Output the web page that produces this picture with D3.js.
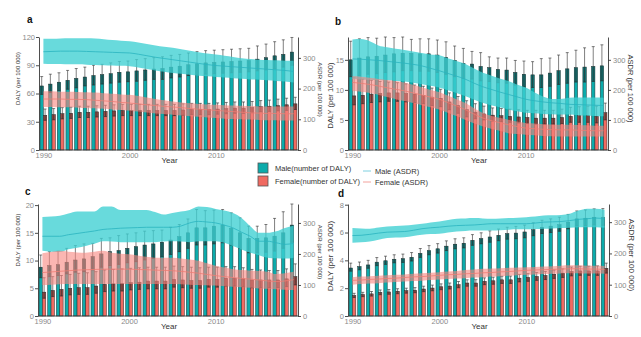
<!DOCTYPE html>
<html>
<head>
<meta charset="utf-8">
<script src="https://cdn.jsdelivr.net/npm/d3@7"></script>
<style>
  body { margin: 0; background: #fff; }
  svg { font-family: "Liberation Sans", Arial, sans-serif; }
</style>
</head>
<body>
<svg id="chart" width="641" height="337"></svg>
<script>
const years = [1990, 1991, 1992, 1993, 1994, 1995, 1996, 1997, 1998, 1999,
  2000, 2001, 2002, 2003, 2004, 2005, 2006, 2007, 2008, 2009,
  2010, 2011, 2012, 2013, 2014, 2015, 2016, 2017, 2018, 2019];
const yearTicks = [1990, 2000, 2010];

// ---- panel a ----
const aMale    = [68, 70, 72, 74, 76, 77.5, 79, 80, 81, 82.5, 83, 84, 85, 86, 86.5, 88, 89, 90.5, 91.5, 92.5, 93, 93.5, 94, 94.5, 95, 96.5, 98, 100, 101.5, 104];
const aMaleHi  = [78, 80.5, 82, 84.5, 86.5, 88, 90, 91, 92.5, 94, 94.5, 96, 97, 98, 99, 100.5, 101.5, 103, 104.5, 105.5, 106, 106.5, 107, 107.5, 108, 110.5, 112.5, 115, 117, 119.5];
const aMaleLo  = [59, 61, 63, 64.5, 66, 68, 69, 70, 71, 72, 72.5, 73, 74, 75, 75, 76.5, 77.5, 79, 80, 80.5, 81, 81.5, 82, 82.5, 83, 84, 85, 86.5, 88, 90];
const aFemale   = [36.8, 37.5, 38.5, 39, 40, 40, 40.5, 41, 41.5, 42, 42, 42, 42, 42, 42, 42, 42.5, 43, 43, 43, 43.5, 44, 44.5, 44.5, 45, 46, 46.5, 47, 48, 49];
const aFemaleHi = [43.5, 44, 45, 45.5, 46.5, 46.5, 47, 47.5, 48, 48.5, 48.5, 48.5, 48.5, 48.5, 48.5, 48.5, 49, 49.5, 49.5, 49.5, 50, 50.5, 51, 51, 51.5, 52.5, 53, 54, 55, 56];
const aFemaleLo = [31.5, 32, 33, 33.5, 34.5, 34.5, 35, 35.5, 36, 36.5, 36.5, 36.5, 36.5, 36.5, 36.5, 36.5, 37, 37.5, 37.5, 37.5, 38, 38.5, 39, 39, 39.5, 40.5, 41, 41.5, 42, 43];
const aMaleAsdr   = [320, 321, 322, 322, 322, 321, 320, 319, 318, 317, 316, 312, 307, 302, 298, 294, 290, 286, 282, 278, 275, 273, 271, 269, 267, 265, 263, 261, 259, 256];
const aMaleAsdrHi = [362, 362, 363, 364, 364, 364, 363, 361, 358, 356, 354, 350, 345, 340, 336, 333, 328, 323, 318, 314, 311, 307, 303, 299, 296, 294, 293, 292, 291, 291];
const aMaleAsdrLo = [281, 280, 280, 279, 279, 278, 277, 276, 275, 274, 273, 269, 264, 259, 255, 251, 248, 245, 242, 240, 238, 236, 234, 232, 230, 229, 227, 225, 223, 220];
const aFemaleAsdr   = [166, 166, 166, 165, 165, 164, 162, 160, 158, 155, 153, 150, 147, 145, 142, 140, 138, 135, 133, 131, 129, 127, 125, 123, 121, 120, 119, 119, 118, 118];
const aFemaleAsdrHi = [191, 191, 190, 190, 189, 188, 187, 185, 183, 181, 180, 176, 171, 166, 162, 158, 155, 152, 150, 148, 147, 146, 145, 144, 143, 142, 142, 142, 142, 142];
const aFemaleAsdrLo = [140, 140, 139, 139, 138, 137, 136, 134, 132, 130, 128, 125, 122, 119, 117, 115, 112, 110, 108, 106, 104, 102, 101, 100, 99, 98, 97, 97, 96, 96];

// ---- panel b ----
const bMale    = [15.0, 15.3, 15.5, 15.6, 15.8, 16.0, 16.1, 16.1, 16.0, 16.0, 15.8, 15.4, 14.9, 14.4, 14.3, 13.9, 13.7, 13.4, 13.3, 12.9, 12.6, 12.5, 12.5, 12.8, 13.2, 13.5, 13.7, 13.8, 13.9, 14.0];
const bMaleHi  = [18.1, 18.5, 18.7, 18.6, 18.8, 18.7, 18.8, 18.4, 18.5, 18.5, 18.3, 18.0, 17.3, 16.9, 16.4, 16.2, 15.5, 15.3, 15.3, 14.9, 14.8, 14.7, 15.2, 15.3, 15.8, 16.2, 16.6, 17.0, 17.2, 17.5];
const bMaleLo  = [12.2, 12.4, 12.6, 12.7, 12.9, 13.0, 13.2, 13.2, 13.1, 13.1, 12.9, 12.6, 12.2, 11.9, 11.8, 11.5, 11.4, 11.2, 11.1, 10.8, 10.5, 10.4, 10.4, 10.6, 10.9, 11.1, 11.3, 11.3, 11.4, 11.5];
const bFemale   = [9.0, 9.1, 9.3, 9.4, 9.5, 9.5, 9.4, 9.3, 9.1, 8.8, 8.6, 8.0, 7.4, 6.7, 6.3, 6.0, 5.8, 5.7, 5.6, 5.5, 5.4, 5.3, 5.3, 5.3, 5.4, 5.6, 5.7, 5.7, 5.6, 6.2];
const bFemaleHi = [12.1, 11.8, 11.6, 11.4, 11.3, 11.2, 11.0, 10.8, 10.6, 10.3, 10.1, 9.5, 8.9, 8.2, 7.7, 7.3, 7.0, 6.9, 6.8, 6.7, 6.6, 6.6, 6.6, 6.6, 6.8, 7.1, 7.2, 7.3, 7.3, 7.8];
const bFemaleLo = [7.5, 7.7, 7.9, 8.0, 8.1, 8.1, 8.0, 7.9, 7.7, 7.4, 7.2, 6.7, 6.1, 5.5, 5.2, 5.0, 4.8, 4.7, 4.6, 4.5, 4.4, 4.3, 4.3, 4.3, 4.4, 4.6, 4.6, 4.6, 4.5, 5.0];
const bMaleAsdr   = [303, 302, 300, 298, 295, 292, 289, 285, 280, 272, 264, 255, 246, 236, 223, 211, 202, 193, 185, 177, 169, 164, 160, 157, 155, 152, 151, 150, 149, 148];
const bMaleAsdrHi = [368, 369, 362, 348, 342, 337, 333, 328, 323, 318, 315, 305, 296, 287, 272, 258, 248, 238, 230, 218, 208, 192, 178, 170, 170, 174, 175, 175, 175, 174];
const bMaleAsdrLo = [236, 235, 234, 233, 232, 230, 228, 224, 219, 214, 208, 199, 190, 180, 168, 157, 149, 142, 135, 129, 124, 122, 120, 119, 118, 118, 116, 115, 113, 112];
const bFemaleAsdr   = [225, 222, 218, 213, 207, 202, 197, 190, 183, 176, 169, 158, 147, 135, 120, 107, 98, 91, 84, 78, 73, 71, 69, 68, 67, 67, 66, 65, 64, 64];
const bFemaleAsdrHi = [245, 244, 240, 236, 233, 230, 225, 217, 209, 200, 193, 181, 169, 157, 140, 124, 114, 107, 101, 95, 90, 88, 86, 85, 84, 84, 83, 82, 81, 81];
const bFemaleAsdrLo = [197, 194, 190, 184, 176, 169, 163, 156, 149, 142, 135, 124, 113, 101, 89, 79, 71, 64, 56, 53, 51, 49, 47, 46, 45, 45, 45, 45, 45, 45];

// ---- panel c ----
const cMale    = [8.8, 9.1, 9.25, 9.7, 10.1, 10.3, 10.7, 11.2, 11.6, 11.8, 12.2, 12.5, 12.8, 13.0, 13.3, 13.7, 14.3, 15.0, 15.9, 15.9, 16.2, 16.4, 15.8, 15.0, 14.0, 14.0, 14.1, 14.4, 15.0, 16.4];
const cMaleHi  = [11.0, 11.6, 11.7, 12.2, 12.7, 13.0, 13.1, 14.0, 14.1, 14.5, 14.8, 15.0, 15.3, 15.4, 15.5, 16.0, 16.5, 17.5, 19.2, 19.0, 19.1, 19.2, 18.6, 17.7, 16.2, 16.2, 16.5, 17.6, 18.8, 20.2];
const cMaleLo  = [6.9, 7.1, 7.3, 7.6, 7.9, 8.0, 8.3, 8.8, 9.1, 9.3, 9.6, 9.8, 10.1, 10.4, 10.7, 11.1, 11.6, 12.2, 12.8, 12.8, 13.0, 13.2, 12.8, 12.2, 11.4, 11.4, 11.5, 11.7, 12.2, 13.3];
const cFemale   = [4.3, 4.6, 4.8, 5.0, 5.1, 5.1, 5.4, 5.7, 5.8, 5.85, 6.0, 6.1, 6.3, 6.3, 6.3, 6.6, 6.5, 6.4, 6.4, 6.6, 6.6, 6.8, 6.8, 6.7, 6.5, 6.5, 6.5, 6.5, 6.7, 7.1];
const cFemaleHi = [6.9, 7.1, 7.3, 7.5, 7.7, 7.8, 8.0, 8.3, 8.4, 8.5, 8.6, 8.7, 8.8, 8.8, 8.8, 9.0, 8.9, 8.8, 8.7, 8.8, 8.8, 8.9, 8.9, 8.7, 8.4, 8.3, 8.2, 8.2, 8.5, 9.4];
const cFemaleLo = [3.2, 3.5, 3.6, 3.8, 3.9, 3.9, 4.1, 4.4, 4.5, 4.5, 4.7, 4.8, 4.9, 4.9, 4.9, 5.2, 5.1, 5.0, 5.0, 5.2, 5.2, 5.4, 5.4, 5.3, 5.1, 5.1, 5.1, 5.1, 5.3, 5.6];
const cMaleAsdr   = [257, 257, 257, 262, 266, 270, 274, 279, 281, 283, 284, 285, 286, 286, 286, 286, 290, 300, 305, 303, 300, 293, 284, 270, 257, 241, 241, 236, 231, 234];
const cMaleAsdrHi = [319, 321, 323, 330, 337, 337, 337, 353, 353, 342, 342, 342, 342, 335, 327, 332, 337, 342, 353, 351, 345, 340, 332, 316, 289, 268, 268, 273, 284, 291];
const cMaleAsdrLo = [210, 207, 206, 215, 220, 226, 233, 241, 240, 238, 238, 238, 238, 238, 240, 241, 240, 238, 241, 241, 241, 236, 226, 214, 204, 196, 188, 186, 185, 188];
const cFemaleAsdr   = [140, 142, 144, 146, 148, 149, 150, 151, 151, 151, 151, 150, 149, 148, 147, 146, 144, 141, 138, 134, 130, 127, 124, 121, 119, 116, 113, 111, 113, 117];
const cFemaleAsdrHi = [202, 206, 210, 207, 205, 204, 207, 210, 204, 201, 199, 195, 191, 188, 188, 188, 185, 182, 178, 170, 162, 156, 151, 148, 146, 145, 143, 135, 138, 143];
const cFemaleAsdrLo = [100, 101, 102, 103, 103, 103, 103, 103, 103, 103, 103, 103, 103, 103, 103, 103, 102, 101, 100, 99, 98, 96, 94, 93, 91, 89, 88, 86, 85, 84];

// ---- panel d ----
const dMale    = [3.45, 3.55, 3.67, 3.87, 3.97, 4.08, 4.12, 4.22, 4.5, 4.7, 4.83, 5.02, 5.16, 5.23, 5.44, 5.56, 5.68, 5.8, 5.92, 5.96, 6.04, 6.2, 6.37, 6.46, 6.56, 6.75, 6.98, 7.03, 7.1, 7.1];
const dMaleHi  = [3.8, 3.88, 4.0, 4.2, 4.3, 4.4, 4.45, 4.56, 4.85, 5.06, 5.2, 5.4, 5.55, 5.62, 5.85, 5.98, 6.12, 6.25, 6.38, 6.44, 6.53, 6.7, 6.88, 6.98, 7.1, 7.3, 7.55, 7.62, 7.7, 7.72];
const dMaleLo  = [3.22, 3.32, 3.43, 3.62, 3.71, 3.82, 3.85, 3.95, 4.21, 4.4, 4.52, 4.7, 4.83, 4.89, 5.08, 5.19, 5.3, 5.41, 5.52, 5.55, 5.62, 5.77, 5.93, 6.0, 6.09, 6.26, 6.47, 6.5, 6.55, 6.52];
const dFemale   = [1.47, 1.54, 1.59, 1.7, 1.73, 1.78, 1.82, 1.85, 1.94, 2.01, 2.1, 2.15, 2.25, 2.37, 2.37, 2.49, 2.53, 2.6, 2.6, 2.72, 2.77, 2.84, 2.91, 3.0, 3.08, 3.2, 3.24, 3.24, 3.24, 3.43];
const dFemaleHi = [1.63, 1.7, 1.76, 1.87, 1.9, 1.96, 2.0, 2.04, 2.14, 2.22, 2.31, 2.37, 2.48, 2.6, 2.61, 2.74, 2.79, 2.86, 2.87, 2.99, 3.05, 3.13, 3.2, 3.3, 3.39, 3.52, 3.57, 3.58, 3.6, 3.8];
const dFemaleLo = [1.33, 1.39, 1.43, 1.53, 1.56, 1.6, 1.64, 1.67, 1.75, 1.81, 1.89, 1.94, 2.03, 2.14, 2.14, 2.25, 2.28, 2.34, 2.34, 2.45, 2.49, 2.56, 2.62, 2.7, 2.77, 2.88, 2.92, 2.92, 2.92, 3.08];
const dMaleAsdr   = [257, 258, 261, 265, 268, 269, 270, 274, 279, 282, 284, 287, 289, 290, 291, 293, 295, 295, 295, 295, 295, 297, 300, 301, 302, 305, 309, 311, 313, 311];
const dMaleAsdrHi = [281, 280, 279, 283, 286, 288, 289, 292, 295, 299, 302, 307, 311, 312, 313, 312, 311, 312, 313, 314, 316, 318, 321, 322, 323, 327, 337, 343, 343, 340];
const dMaleAsdrLo = [234, 236, 238, 244, 249, 251, 252, 256, 260, 262, 263, 267, 270, 272, 273, 273, 273, 274, 276, 277, 277, 278, 279, 280, 281, 282, 284, 284, 284, 282];
const dFemaleAsdr   = [114, 115, 117, 118, 120, 121, 123, 125, 126, 128, 130, 132, 133, 135, 136, 138, 139, 141, 142, 144, 146, 147, 148, 149, 150, 151, 151, 150, 150, 149];
const dFemaleAsdrHi = [124, 126, 127, 129, 130, 132, 133, 135, 137, 138, 140, 142, 144, 147, 149, 151, 152, 153, 154, 155, 156, 157, 158, 159, 161, 162, 162, 161, 161, 160];
const dFemaleAsdrLo = [100, 102, 104, 105, 107, 109, 110, 112, 113, 115, 117, 118, 120, 121, 123, 124, 126, 127, 129, 130, 132, 133, 134, 135, 136, 137, 137, 136, 136, 135];

const dalyTicksA = [0, 30, 60, 90, 120];
const dalyTicksB = [0, 5, 10, 15];
const dalyTicksC = [0, 5, 10, 15, 20];
const dalyTicksD = [0, 2, 4, 6, 8];
const asdrTicks = [0, 100, 200, 300];

const legendBars = ["Male(number of DALY)", "Female(number of DALY)"];
const legendLines = ["Male (ASDR)", "Female (ASDR)"];

const col = {
  maleBar: "#0cabab", femaleBar: "#f06a61",
  maleBand: "#3ecfd2", femaleBand: "#f8867e",
  maleLine: "#2ab4bf", femaleLine: "#ef7c74",
  axis: "#3a3a3a", tick: "#8a8a8a"
};

// layout of the four panels (ly/ry shift the axis titles from the plot middle)
const panels = [
  { tag: "a", x0: 39, x1: 298, y0: 37, y1: 150, dmax: 120, amax: 368, dticks: dalyTicksA, fs: 6, tagX: 27, tagY: 23, lx: 19, ly: -15, ry: -4,
    male: [aMale, aMaleLo, aMaleHi], female: [aFemale, aFemaleLo, aFemaleHi],
    mAsdr: [aMaleAsdr, aMaleAsdrLo, aMaleAsdrHi], fAsdr: [aFemaleAsdr, aFemaleAsdrLo, aFemaleAsdrHi] },
  { tag: "b", x0: 348, x1: 608, y0: 37, y1: 150, dmax: 18.8, amax: 376, dticks: dalyTicksB, fs: 7.5, tagX: 335, tagY: 25, lx: 15, ly: 2, ry: -5,
    male: [bMale, bMaleLo, bMaleHi], female: [bFemale, bFemaleLo, bFemaleHi],
    mAsdr: [bMaleAsdr, bMaleAsdrLo, bMaleAsdrHi], fAsdr: [bFemaleAsdr, bFemaleAsdrLo, bFemaleAsdrHi] },
  { tag: "c", x0: 38, x1: 298, y0: 204, y1: 316, dmax: 20.2, amax: 361, dticks: dalyTicksC, fs: 6, tagX: 25, tagY: 195, lx: 18, ly: -20, ry: -8,
    male: [cMale, cMaleLo, cMaleHi], female: [cFemale, cFemaleLo, cFemaleHi],
    mAsdr: [cMaleAsdr, cMaleAsdrLo, cMaleAsdrHi], fAsdr: [cFemaleAsdr, cFemaleAsdrLo, cFemaleAsdrHi] },
  { tag: "d", x0: 348, x1: 609, y0: 204, y1: 316, dmax: 8.05, amax: 358, dticks: dalyTicksD, fs: 8, tagX: 338, tagY: 197, lx: 15, ly: -4, ry: -5,
    male: [dMale, dMaleLo, dMaleHi], female: [dFemale, dFemaleLo, dFemaleHi],
    mAsdr: [dMaleAsdr, dMaleAsdrLo, dMaleAsdrHi], fAsdr: [dFemaleAsdr, dFemaleAsdrLo, dFemaleAsdrHi] }
];

const svg = d3.select("#chart");

function drawPanel(p) {
  const g = svg.append("g").attr("class", "panel-" + p.tag);

  const x = d3.scaleBand().domain(years).range([p.x0, p.x1]).paddingInner(0.22).paddingOuter(0.12);
  const sex = d3.scaleBand().domain(["Male", "Female"]).range([0, x.bandwidth()]);
  const yL = d3.scaleLinear().domain([0, p.dmax]).range([p.y1, p.y0]);
  const yR = d3.scaleLinear().domain([0, p.amax]).range([p.y1, p.y0]);
  const xYear = d3.scaleLinear().domain([years[0], years[years.length - 1]])
    .range([x(years[0]) + x.bandwidth() / 2, x(years[years.length - 1]) + x.bandwidth() / 2]);

  // bars with dark CI box and whiskers
  [["Male", p.male, col.maleBar], ["Female", p.female, col.femaleBar]].forEach(function(s) {
    const rows = years.map(function(yr, i) {
      return { year: yr, v: s[1][0][i], lo: s[1][1][i], hi: s[1][2][i] };
    });
    const bx = function(d) { return x(d.year) + sex(s[0]); };
    const bw = sex.bandwidth();

    g.append("g").selectAll("rect").data(rows).enter().append("rect")
      .attr("x", bx).attr("width", bw)
      .attr("y", function(d) { return yL(d.v); })
      .attr("height", function(d) { return yL(0) - yL(d.v); })
      .attr("fill", s[2]).attr("stroke", "#233").attr("stroke-width", 0.5);

    g.append("g").selectAll("rect").data(rows).enter().append("rect")
      .attr("x", bx).attr("width", bw)
      .attr("y", function(d) { return yL(d.v); })
      .attr("height", function(d) { return yL(d.lo) - yL(d.v); })
      .attr("fill", "#1a1a1a").attr("fill-opacity", 0.38);

    const eb = g.append("g").attr("stroke", "#2a2a2a").attr("stroke-width", 0.6);
    eb.selectAll("line.v").data(rows).enter().append("line")
      .attr("x1", function(d) { return bx(d) + bw / 2; })
      .attr("x2", function(d) { return bx(d) + bw / 2; })
      .attr("y1", function(d) { return yL(d.lo); })
      .attr("y2", function(d) { return yL(d.hi); });
    ["hi", "lo"].forEach(function(k) {
      eb.selectAll("line." + k).data(rows).enter().append("line")
        .attr("x1", function(d) { return bx(d) + 0.2; })
        .attr("x2", function(d) { return bx(d) + bw - 0.2; })
        .attr("y1", function(d) { return yL(d[k]); })
        .attr("y2", function(d) { return yL(d[k]); });
    });
  });

  // ASDR uncertainty ribbons with their centre lines
  [[p.mAsdr, col.maleBand, col.maleLine, 0.78], [p.fAsdr, col.femaleBand, col.femaleLine, 0.6]].forEach(function(s) {
    const rows = years.map(function(yr, i) {
      return { year: yr, v: s[0][0][i], lo: s[0][1][i], hi: s[0][2][i] };
    });
    const area = d3.area().curve(d3.curveMonotoneX)
      .x(function(d) { return xYear(d.year); })
      .y0(function(d) { return yR(d.lo); })
      .y1(function(d) { return yR(d.hi); });
    const line = d3.line().curve(d3.curveMonotoneX)
      .x(function(d) { return xYear(d.year); })
      .y(function(d) { return yR(d.v); });
    g.append("path").datum(rows).attr("d", area).attr("fill", s[1]).attr("fill-opacity", s[3]);
    g.append("path").datum(rows).attr("d", line).attr("fill", "none")
      .attr("stroke", s[2]).attr("stroke-width", 0.8);
  });

  // axes
  const ax = function(sel) {
    sel.selectAll(".domain, .tick line").attr("stroke", col.axis).attr("stroke-width", 0.9);
    sel.selectAll("text").attr("fill", col.tick).attr("font-size", 7.5);
  };
  g.append("g").attr("transform", "translate(" + p.x0 + ",0)")
    .call(d3.axisLeft(yL).tickValues(p.dticks).tickSize(3).tickPadding(1).tickSizeOuter(0))
    .call(ax);
  g.append("g").attr("transform", "translate(" + p.x1 + ",0)")
    .call(d3.axisRight(yR).tickValues(asdrTicks).tickSize(3).tickPadding(2).tickSizeOuter(0))
    .call(ax);
  g.append("g").attr("transform", "translate(0," + p.y1 + ")")
    .call(d3.axisBottom(xYear).tickValues(yearTicks).tickFormat(d3.format("d")).tickSize(0).tickPadding(3))
    .call(ax)
    .select(".domain").attr("d", "M" + p.x0 + ",0H" + p.x1);

  // titles
  const midY = (p.y0 + p.y1) / 2;
  g.append("text")
    .attr("transform", "translate(" + (p.x0 - p.lx) + "," + (midY + p.ly) + ") rotate(-90)")
    .attr("text-anchor", "middle").attr("font-size", p.fs).attr("fill", "#333")
    .text("DALY (per 100 000)");
  g.append("text")
    .attr("transform", "translate(" + (p.x1 + 20) + "," + (midY + p.ry) + ") rotate(90)")
    .attr("text-anchor", "middle").attr("font-size", p.fs).attr("fill", "#333")
    .text("ASDR (per 100 000)");
  g.append("text")
    .attr("x", (p.x0 + p.x1) / 2 + 1).attr("y", p.y1 + 13)
    .attr("text-anchor", "middle").attr("font-size", 8).attr("fill", "#333")
    .text("Year");
  g.append("text")
    .attr("x", p.tagX).attr("y", p.tagY)
    .attr("font-size", 10).attr("font-weight", "bold").attr("fill", "#111")
    .text(p.tag);
}

panels.forEach(drawPanel);

// legend
const lg = svg.append("g").attr("font-size", 7.5).attr("fill", "#333");
lg.selectAll("rect").data(legendBars).enter().append("rect")
  .attr("x", 258).attr("y", function(d, i) { return 163 + i * 13; })
  .attr("width", 10).attr("height", 10)
  .attr("fill", function(d, i) { return i === 0 ? col.maleBar : col.femaleBar; })
  .attr("stroke", "#555").attr("stroke-width", 0.8);
lg.selectAll("text.bar").data(legendBars).enter().append("text")
  .attr("class", "bar")
  .attr("x", 275).attr("y", function(d, i) { return 171 + i * 13; })
  .text(function(d) { return d; });
lg.selectAll("line").data(legendLines).enter().append("line")
  .attr("x1", 363).attr("x2", 371)
  .attr("y1", function(d, i) { return 171 + i * 11; })
  .attr("y2", function(d, i) { return 171 + i * 11; })
  .attr("stroke", function(d, i) { return i === 0 ? "#7fd0e0" : "#f3a29c"; })
  .attr("stroke-width", 1);
lg.selectAll("text.line").data(legendLines).enter().append("text")
  .attr("class", "line")
  .attr("x", 375).attr("y", function(d, i) { return 174 + i * 11; })
  .text(function(d) { return d; });
</script>
</body>
</html>
